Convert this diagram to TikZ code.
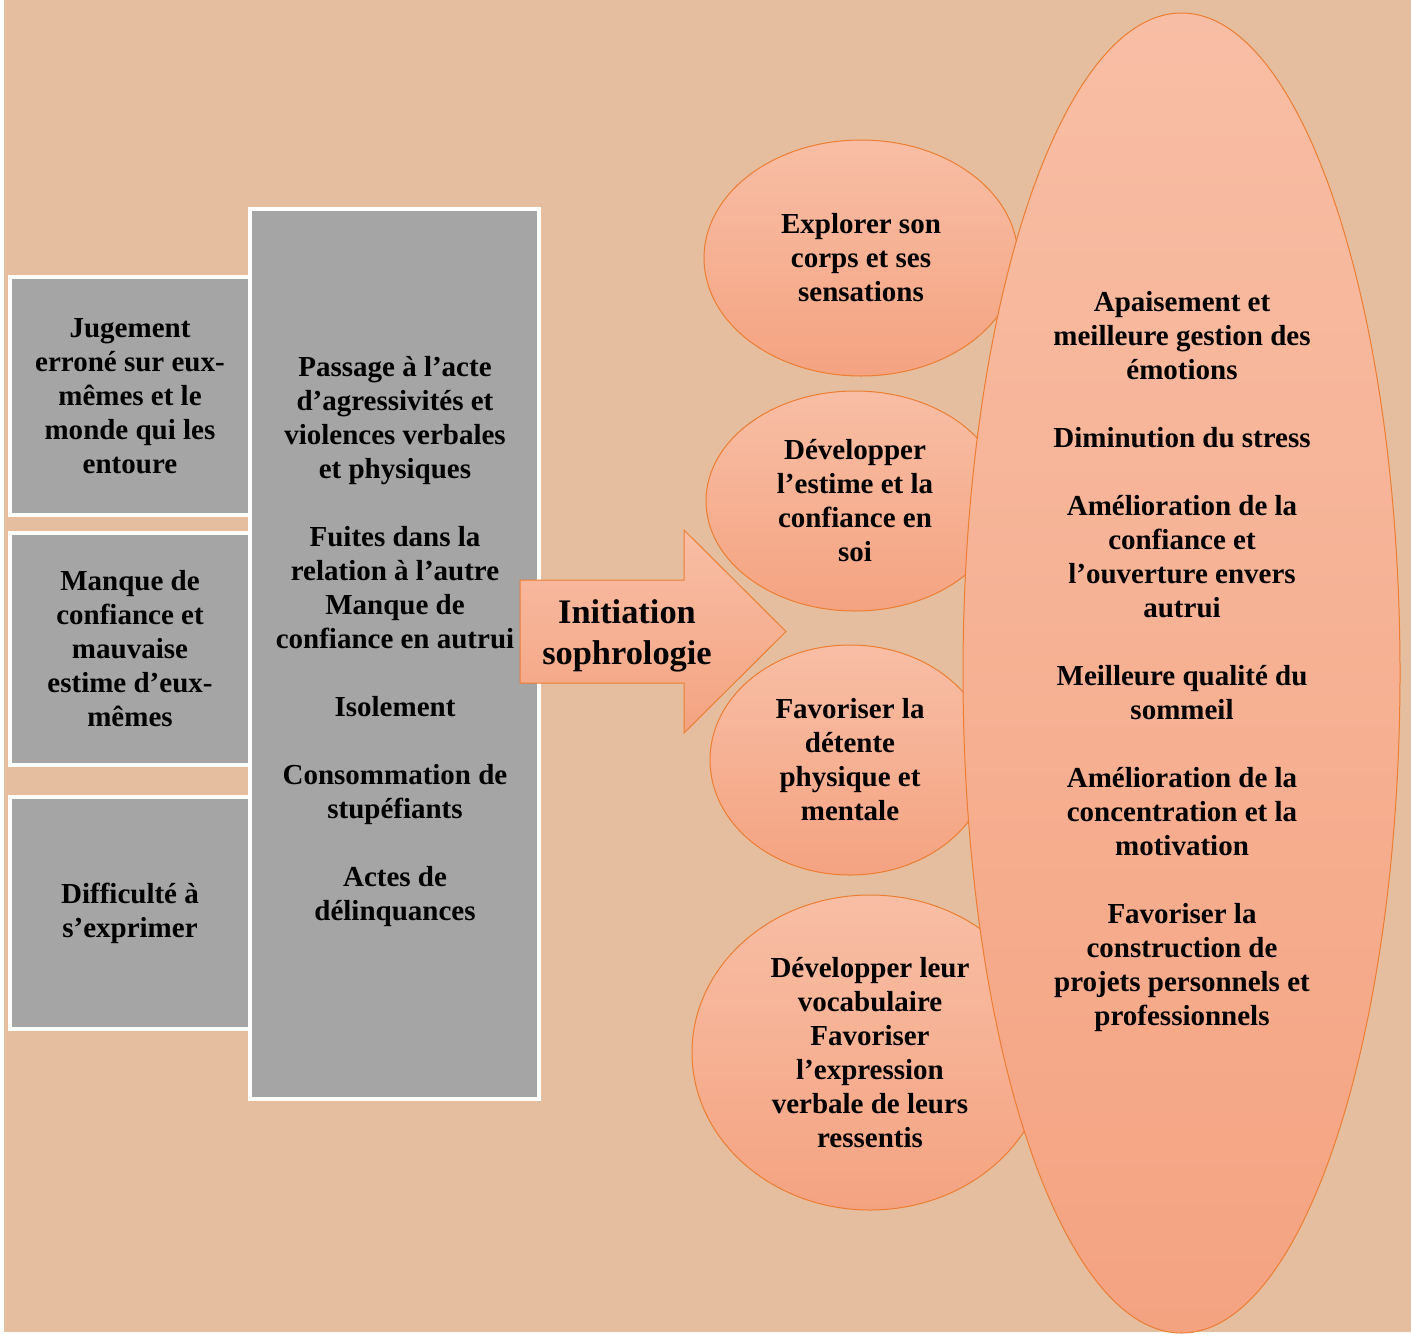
\documentclass[tikz,border=0pt]{standalone}
\usepackage{fontspec}
\setmainfont{Liberation Serif}
\usepackage{tikz}
\usetikzlibrary{shapes.geometric}
\definecolor{sphbg}{RGB}{229,190,159}
\definecolor{sphgray}{RGB}{165,165,165}
\definecolor{sphorange}{RGB}{237,125,49}
\definecolor{sphlight}{RGB}{248,190,165}
\definecolor{sphdark}{RGB}{244,163,129}

\begin{document}
\begin{tikzpicture}[x=0.5pt, y=-0.5pt,
    every node/.style={font=\bfseries\fontsize{14.5}{17}\selectfont, align=center, inner sep=0pt},
    graybox/.style={draw=white, line width=2pt, fill=sphgray},
    bubble/.style={ellipse, draw=sphorange, line width=0.5pt, top color=sphlight, bottom color=sphdark}]
    % Background
    \fill[sphbg] (4,0) rectangle (1411,1332);
    \useasboundingbox (0,0) rectangle (1411,1333);

    % Left column: difficulties
    \node[graybox, minimum width=120pt, minimum height=118.75pt] (jugement) at (130,396) {Jugement\\erroné sur eux-\\mêmes et le\\monde qui les\\entoure};
    \node[graybox, minimum width=120pt, minimum height=116pt] (manque) at (130,649) {Manque de\\confiance et\\mauvaise\\estime d’eux-\\mêmes};
    \node[graybox, minimum width=120pt, minimum height=116pt] (difficulte) at (130,913) {Difficulté à\\s’exprimer};

    % Middle column: behaviours
    \node[graybox, minimum width=144.5pt, minimum height=445.25pt] (comport) at (394.5,654) {};
    \node (comporttxt) at (395,641.5) {Passage à l’acte\\d’agressivités et\\violences verbales\\et physiques\\[17pt]
        Fuites dans la\\relation à l’autre\\Manque de\\confiance en autrui\\[17pt]
        Isolement\\[17pt]
        Consommation de\\stupéfiants\\[17pt]
        Actes de\\délinquances};

    % Arrow
    \coordinate (a1) at (520,580);
    \coordinate (a2) at (786,631.5);
    \draw[draw=sphorange, line width=0.5pt, top color=sphlight, bottom color=sphdark]
        (a1) -- (684,580) -- (684,530) -- (a2) -- (684,733) -- (684,683) -- (520,683) -- cycle;
    \node[font=\bfseries\fontsize{17.2}{20.5}\selectfont] (initiation) at (627,636) {Initiation\\sophrologie};

    % Objectives
    \node[bubble, minimum width=157pt, minimum height=118pt] (explorer) at (861,258) {Explorer son\\corps et ses\\sensations};
    \node[bubble, minimum width=149pt, minimum height=110pt] (estime) at (855,501) {Développer\\l’estime et la\\confiance en\\soi};
    \node[bubble, minimum width=140pt, minimum height=115pt] (detente) at (850,760) {Favoriser la\\détente\\physique et\\mentale};
    \node[bubble, minimum width=178pt, minimum height=157.5pt] (vocab) at (870,1052.5) {Développer leur\\vocabulaire\\Favoriser\\l’expression\\verbale de leurs\\ressentis};

    % Effects
    \node[bubble, minimum width=218.5pt, minimum height=660pt] (effets) at (1181.5,673) {};
    \node (effetstxt) at (1182,662) {Apaisement et\\meilleure gestion des\\émotions\\[17pt]
        Diminution du stress\\[17pt]
        Amélioration de la\\confiance et\\l’ouverture envers\\autrui\\[17pt]
        Meilleure qualité du\\sommeil\\[17pt]
        Amélioration de la\\concentration et la\\motivation\\[17pt]
        Favoriser la\\construction de\\projets personnels et\\professionnels};
\end{tikzpicture}
\end{document}
